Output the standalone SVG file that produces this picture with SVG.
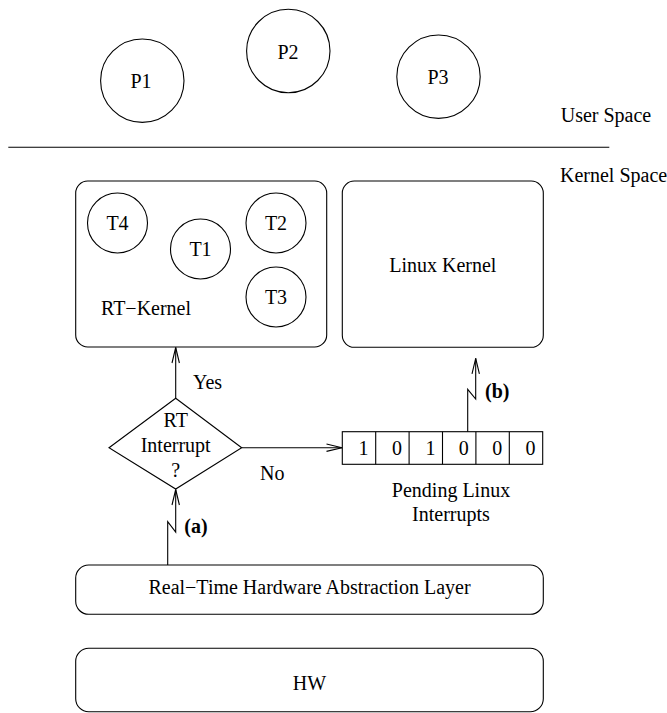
<svg xmlns="http://www.w3.org/2000/svg" width="667" height="713" viewBox="0 0 667 713">
  <style>
    .ln { fill: none; stroke: #000; stroke-width: 1.1; }
    .sh { fill: #fff; stroke: #000; stroke-width: 1.1; }
    text { font-family: "Liberation Serif", "Times New Roman", serif; font-size: 20px; fill: #000; }
    .c { text-anchor: middle; }
    .b { font-weight: bold; }
  </style>
  <defs>
    <marker id="open" markerUnits="userSpaceOnUse" markerWidth="20" markerHeight="12" viewBox="-17 -6 19 12" refX="0" refY="0" orient="auto">
      <path d="M-15.5,-3.7 L0,0 L-15.5,3.7" fill="none" stroke="#000" stroke-width="1.1"/>
    </marker>
  </defs>

  <rect width="667" height="713" fill="#fff"/>

  <!-- user space processes -->
  <g id="p1"><circle class="sh" cx="142.3" cy="80.7" r="41.7"/><text class="c" x="141" y="88.3">P1</text></g>
  <g id="p2"><circle class="sh" cx="288.3" cy="51" r="41.7"/><text class="c" x="288" y="58.5">P2</text></g>
  <g id="p3"><circle class="sh" cx="438.5" cy="76.7" r="41.7"/><text class="c" x="438" y="84">P3</text></g>

  <!-- user / kernel boundary -->
  <g id="boundary">
    <line class="ln" x1="8.3" y1="147.3" x2="609.3" y2="147.3"/>
    <text x="560.7" y="122.3">User Space</text>
    <text x="560" y="182.3">Kernel Space</text>
  </g>

  <!-- real-time kernel with its tasks -->
  <g id="rt-kernel">
    <rect class="sh" x="75.7" y="181" width="251" height="166" rx="12" ry="12"/>
    <text x="101" y="315">RT−Kernel</text>
  </g>
  <g id="t4"><circle class="sh" cx="117.5" cy="223" r="30"/><text class="c" x="117.5" y="229.5">T4</text></g>
  <g id="t1"><circle class="sh" cx="200.5" cy="249" r="30"/><text class="c" x="200.5" y="255.5">T1</text></g>
  <g id="t2"><circle class="sh" cx="276" cy="223" r="30"/><text class="c" x="276" y="229.5">T2</text></g>
  <g id="t3"><circle class="sh" cx="276" cy="297" r="30"/><text class="c" x="276" y="303.5">T3</text></g>

  <!-- linux kernel -->
  <g id="linux-kernel">
    <rect class="sh" x="342.3" y="181" width="201" height="166.3" rx="12" ry="12"/>
    <text class="c" x="442.8" y="271.7">Linux Kernel</text>
  </g>

  <!-- decision -->
  <g id="rt-interrupt">
    <polygon class="sh" points="175.7,398.3 241.7,447.7 175.7,489 109,447.7"/>
    <text class="c" x="175.7" y="427">RT</text>
    <text class="c" x="175.7" y="451.7">Interrupt</text>
    <text class="c" x="175.7" y="476.7">?</text>
  </g>

  <!-- pending interrupt register -->
  <g id="pending">
    <rect class="sh" x="342.3" y="431.7" width="200.4" height="32.6"/>
    <path class="ln" d="M375.7,431.7V464.3M409.1,431.7V464.3M442.5,431.7V464.3M475.9,431.7V464.3M509.3,431.7V464.3"/>
    <text class="c" x="363.5" y="455">1</text>
    <text class="c" x="397" y="455">0</text>
    <text class="c" x="430.4" y="455">1</text>
    <text class="c" x="463.8" y="455">0</text>
    <text class="c" x="497.2" y="455">0</text>
    <text class="c" x="530.6" y="455">0</text>
    <text class="c" x="451" y="496.7">Pending Linux</text>
    <text class="c" x="451" y="520.7">Interrupts</text>
  </g>

  <!-- hardware abstraction and hardware -->
  <g id="rthal">
    <rect class="sh" x="75.7" y="565" width="467.6" height="49.3" rx="13" ry="13"/>
    <text class="c" x="309.5" y="594.3">Real−Time Hardware Abstraction Layer</text>
  </g>
  <g id="hw">
    <rect class="sh" x="75.7" y="648.3" width="467.6" height="63.4" rx="13" ry="13"/>
    <text class="c" x="309.5" y="690">HW</text>
  </g>

  <!-- connectors -->
  <g id="connectors">
    <line class="ln" x1="175.7" y1="398.3" x2="175.7" y2="347.5" marker-end="url(#open)"/>
    <line class="ln" x1="241.7" y1="447.7" x2="342" y2="447.7" marker-end="url(#open)"/>
    <polyline class="ln" points="167.7,565 167.7,521.7 175.7,532.2 175.7,489.5" marker-end="url(#open)"/>
    <polyline class="ln" points="467.7,431.7 467.7,389.3 475.7,399 475.7,358.3" marker-end="url(#open)"/>
    <text x="193" y="389">Yes</text>
    <text x="260" y="480">No</text>
    <text class="b" x="184.3" y="532.7">(a)</text>
    <text class="b" x="485" y="398">(b)</text>
  </g>
</svg>
